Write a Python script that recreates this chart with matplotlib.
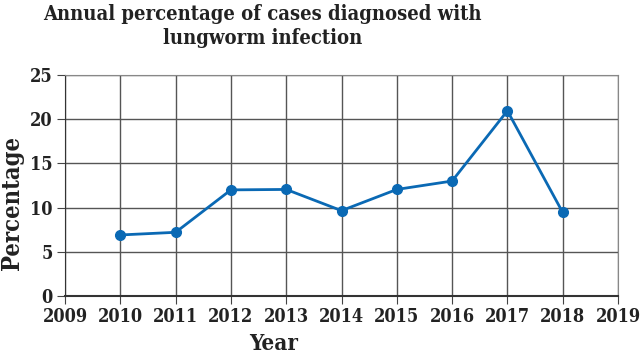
import matplotlib
matplotlib.use('Agg')
import matplotlib.pyplot as plt

years = [2010, 2011, 2012, 2013, 2014, 2015, 2016, 2017, 2018]
percent = [6.9, 7.2, 12.0, 12.05, 9.65, 12.05, 13.0, 20.95, 9.45]
x_ticks = list(range(2009, 2020))
y_ticks = [0, 5, 10, 15, 20, 25]

plt.rcParams['font.family'] = ['DejaVu Serif Condensed', 'DejaVu Serif']
plt.rcParams['font.stretch'] = 'condensed'
plt.rcParams['font.weight'] = 'bold'

fig = plt.figure(figsize=(6.4, 3.57), dpi=100)
ax = fig.add_axes([0.1016, 0.171, 0.864, 0.619])

ax.plot(years, percent, color="#0a69b4", linewidth=2, marker="o", markersize=7, zorder=3)

ax.set_xlim(2009, 2019)
ax.set_ylim(0, 25)
ax.set_xticks(x_ticks)
ax.set_yticks(y_ticks)
ax.grid(True, color="#555555", linewidth=1)
ax.tick_params(axis="both", direction="out", length=6, color="#444444", labelsize=13, pad=3)
for lbl in ax.get_xticklabels() + ax.get_yticklabels():
    lbl.set_fontweight("bold")
    lbl.set_color("#222222")
for side in ["top", "right"]:
    ax.spines[side].set_color("#888888")
ax.spines["left"].set_color("#333333")
ax.spines["bottom"].set_color("#333333")
ax.spines["bottom"].set_linewidth(1.5)

# title sits left of centre in the original
fig.text(0.41, 0.99, "Annual percentage of cases diagnosed with\nlungworm infection",
         ha="center", va="top", fontsize=14.5, fontweight="bold", color="#222222", linespacing=1.3)
fig.text(0.427, 0.005, "Year", ha="center", va="bottom", fontsize=16, fontweight="bold", color="#222222")
fig.text(0.0, 0.43, "Percentage", ha="left", va="center", rotation=90, fontsize=17,
         fontweight="bold", color="#222222")

fig.savefig("out.png", dpi=100)
